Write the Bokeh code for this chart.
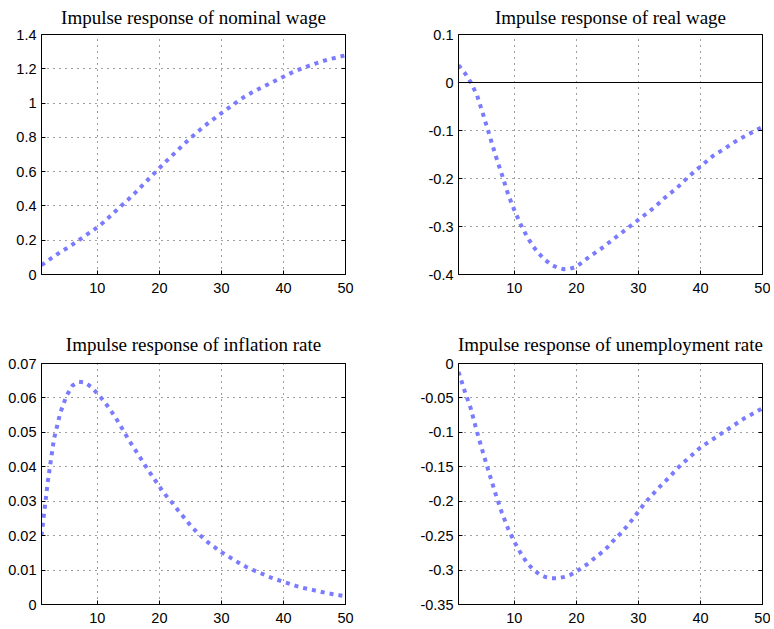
from bokeh.plotting import figure
from bokeh.layouts import column, row
from bokeh.models import Range1d, FixedTicker, LinearAxis, Span
from bokeh.embed import file_html
from bokeh.resources import INLINE

# ---------------- data ----------------
periods = list(range(1, 51))

nominal_wage = [0.055, 0.080, 0.105, 0.130, 0.152, 0.175, 0.200, 0.225, 0.250, 0.275,
                0.305, 0.338, 0.372, 0.405, 0.438, 0.473, 0.510, 0.547, 0.584, 0.620,
                0.657, 0.692, 0.727, 0.762, 0.795, 0.827, 0.858, 0.887, 0.914, 0.941,
                0.967, 0.993, 1.020, 1.043, 1.063, 1.082, 1.100, 1.118, 1.136, 1.154,
                1.172, 1.188, 1.202, 1.216, 1.229, 1.241, 1.252, 1.261, 1.270, 1.278]

real_wage = [0.036, 0.020, 0.000, -0.027, -0.068, -0.110, -0.153, -0.192, -0.233, -0.266,
             -0.295, -0.320, -0.341, -0.357, -0.370, -0.380, -0.386, -0.389, -0.388, -0.384,
             -0.374, -0.364, -0.355, -0.346, -0.336, -0.326, -0.316, -0.306, -0.296, -0.286,
             -0.276, -0.266, -0.255, -0.243, -0.232, -0.222, -0.210, -0.197, -0.186, -0.175,
             -0.164, -0.153, -0.145, -0.137, -0.128, -0.120, -0.113, -0.106, -0.099, -0.093]

inflation_rate = [0.0200, 0.0355, 0.0480, 0.0555, 0.0605, 0.0636, 0.0647, 0.0645, 0.0632, 0.0613,
                  0.0592, 0.0568, 0.0541, 0.0511, 0.0480, 0.0452, 0.0424, 0.0396, 0.0369, 0.0343,
                  0.0318, 0.0297, 0.0274, 0.0252, 0.0230, 0.0211, 0.0194, 0.0178, 0.0165, 0.0152,
                  0.0141, 0.0130, 0.0119, 0.0109, 0.0101, 0.0093, 0.0086, 0.0078, 0.0072, 0.0066,
                  0.0060, 0.0054, 0.0049, 0.0045, 0.0041, 0.0037, 0.0033, 0.0030, 0.0027, 0.0024]

unemployment_rate = [-0.012, -0.040, -0.066, -0.100, -0.131, -0.161, -0.190, -0.217, -0.240, -0.259,
                     -0.275, -0.289, -0.299, -0.306, -0.310, -0.312, -0.312, -0.310, -0.307, -0.302,
                     -0.296, -0.290, -0.282, -0.275, -0.267, -0.257, -0.248, -0.238, -0.227, -0.215,
                     -0.203, -0.193, -0.183, -0.174, -0.165, -0.155, -0.146, -0.138, -0.130, -0.122,
                     -0.116, -0.110, -0.104, -0.098, -0.092, -0.086, -0.080, -0.075, -0.070, -0.065]

x_ticks = [10, 20, 30, 40, 50]
x_tick_labels = ["10", "20", "30", "40", "50"]

nominal_ticks = [0.0, 0.2, 0.4, 0.6, 0.8, 1.0, 1.2, 1.4]
nominal_tick_labels = ["0", "0.2", "0.4", "0.6", "0.8", "1", "1.2", "1.4"]

real_ticks = [-0.4, -0.3, -0.2, -0.1, 0.0, 0.1]
real_tick_labels = ["-0.4", "-0.3", "-0.2", "-0.1", "0", "0.1"]

inflation_ticks = [0.0, 0.01, 0.02, 0.03, 0.04, 0.05, 0.06, 0.07]
inflation_tick_labels = ["0", "0.01", "0.02", "0.03", "0.04", "0.05", "0.06", "0.07"]

unemp_ticks = [-0.35, -0.3, -0.25, -0.2, -0.15, -0.1, -0.05, 0.0]
unemp_tick_labels = ["-0.35", "-0.3", "-0.25", "-0.2", "-0.15", "-0.1", "-0.05", "0"]

titles = ["Impulse response of nominal wage", "Impulse response of real wage",
          "Impulse response of inflation rate", "Impulse response of unemployment rate"]

# ---------------- styling ----------------
LINE_COLOR = "#7b7bff"
TICK_FONT = "Liberation Sans"
TITLE_FONT = "Liberation Serif"


def style_axis(ax, ticks, labels, show_labels=True):
    ax.ticker = FixedTicker(ticks=ticks)
    ax.major_tick_in = 4
    ax.major_tick_out = 0
    ax.minor_tick_in = 0
    ax.minor_tick_out = 0
    ax.axis_line_color = "black"
    ax.major_tick_line_color = "black"
    ax.major_label_text_font = TICK_FONT
    if show_labels:
        ax.major_label_overrides = {t: l for t, l in zip(ticks, labels)}
        ax.major_label_text_color = "black"
        ax.major_label_text_font_size = "14.5px"
    else:
        ax.major_label_text_color = None
        ax.major_label_text_font_size = "0px"
        ax.major_label_standoff = 0


def make_panel(title, yvals, ylo, yhi, yticks, ylabels, frame_h, borders,
               title_valign, title_standoff, zero_line=False):
    bl, br, bt, bb = borders
    p = figure(frame_width=304, frame_height=frame_h,
               x_range=Range1d(1, 50), y_range=Range1d(ylo, yhi),
               output_backend="svg", toolbar_location=None,
               min_border_left=bl, min_border_right=br,
               min_border_top=bt, min_border_bottom=bb,
               title=title)
    p.title.text_font = TITLE_FONT
    p.title.text_font_size = "19px"
    p.title.text_font_style = "normal"
    p.title.text_color = "black"
    p.title.align = "center"
    p.title.vertical_align = title_valign
    p.title.standoff = title_standoff

    style_axis(p.xaxis[0], x_ticks, x_tick_labels)
    p.xaxis[0].major_label_standoff = 8
    style_axis(p.yaxis[0], yticks, ylabels)
    p.yaxis[0].major_label_standoff = 5

    ax_r = LinearAxis()
    style_axis(ax_r, yticks, ylabels, show_labels=False)
    p.add_layout(ax_r, "right")

    for g in (p.xgrid[0], p.ygrid[0]):
        g.grid_line_color = "black"
        g.grid_line_alpha = 0.75
        g.grid_line_dash = "1 5"
        g.grid_line_width = 1

    p.outline_line_color = "black"
    p.outline_line_alpha = 1
    p.outline_line_width = 1
    p.background_fill_color = "white"
    p.border_fill_color = "white"

    if zero_line:
        p.add_layout(Span(location=0, dimension="width", line_color="black", line_width=1))

    p.line(periods, yvals, line_color=LINE_COLOR, line_width=4, line_dash="4 5",
           line_cap="butt")
    return p


p1 = make_panel(titles[0], nominal_wage, 0, 1.4, nominal_ticks, nominal_tick_labels,
                240, (41, 63, 34, 44), "top", 10)
p2 = make_panel(titles[1], real_wage, -0.4, 0.1, real_ticks, real_tick_labels,
                240, (50, 8, 34, 44), "top", 10, zero_line=True)
p3 = make_panel(titles[2], inflation_rate, 0, 0.07, inflation_ticks, inflation_tick_labels,
                241, (41, 63, 45, 20), "bottom", 17)
p4 = make_panel(titles[3], unemployment_rate, -0.35, 0, unemp_ticks, unemp_tick_labels,
                241, (50, 8, 45, 20), "bottom", 17)

layout = column(row(p1, p2), row(p3, p4))

open("out.html", "w").write(file_html(layout, INLINE))
